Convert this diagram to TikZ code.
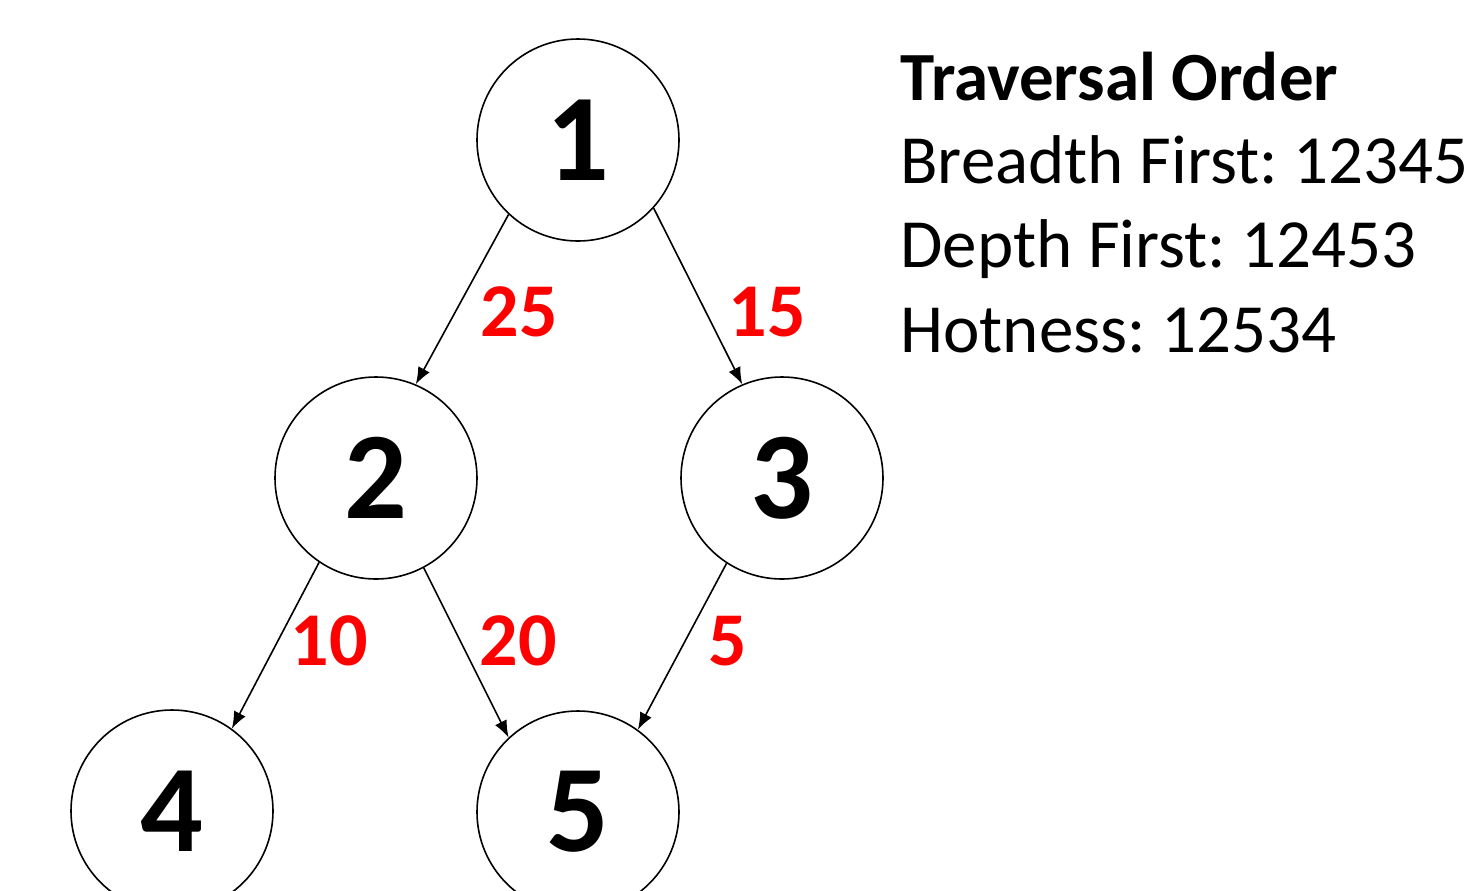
\documentclass[tikz,border=0pt]{standalone}
\usepackage{fontspec}
\setmainfont{Carlito}
\usetikzlibrary{arrows.meta}
\frenchspacing
\begin{document}
\begin{tikzpicture}[x=0.5pt,y=-0.5pt,
  vert/.style={circle,draw,line width=0.8pt,minimum size=101pt,inner sep=0pt,
    font=\fontsize{62}{62}\selectfont\bfseries},
  edge/.style={line width=0.8pt,-{Latex[length=8.5pt,width=6.5pt]}},
  wt/.style={text=red,font=\fontsize{38}{38}\selectfont\bfseries,inner sep=0pt},
  info/.style={anchor=base west,inner sep=0pt,font=\fontsize{34.5}{34.5}\selectfont}]
\useasboundingbox (0,0) rectangle (1468,890);
\clip (0,0) rectangle (1468,890);
\node[vert] (n1) at (578,140) {1};
\node[vert] (n2) at (376,478) {2};
\node[vert] (n3) at (782,478) {3};
\node[vert] (n4) at (172,811) {4};
\node[vert] (n5) at (578,812) {5};
\draw[edge] (n1.-133) -- (n2.67);
\draw[edge] (n1.-42) -- (n3.113);
\draw[edge] (n2.-124) -- (n4.54);
\draw[edge] (n2.-62) -- (n5.133);
\draw[edge] (n3.-123) -- (n5.54);
\node[wt] (w25) at (519,312) {25};
\node[wt] (w15) at (767,312) {15};
\node[wt] (w10) at (329,641) {10};
\node[wt] (w20) at (518,641) {20};
\node[wt] (w5) at (728,641) {5};
\node[info,font=\fontsize{34.5}{34.5}\selectfont\bfseries] (t0) at (900,100) {Traversal Order};
\node[info] (t1) at (900,183) {Breadth First: 12345};
\node[info] (t2) at (900,267) {Depth First: 12453};
\node[info] (t3) at (900,352) {Hotness: 12534};
\end{tikzpicture}
\end{document}
